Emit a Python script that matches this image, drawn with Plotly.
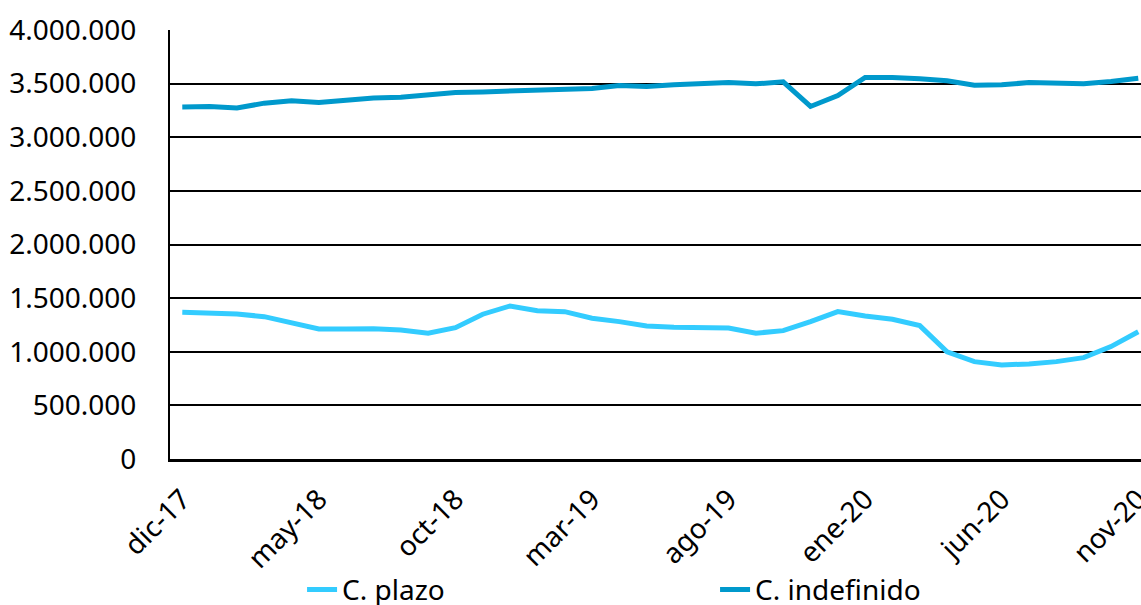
import plotly.graph_objects as go

months = ["dic-17", "ene-18", "feb-18", "mar-18", "abr-18", "may-18", "jun-18", "jul-18",
          "ago-18", "sep-18", "oct-18", "nov-18", "dic-18", "ene-19", "feb-19", "mar-19",
          "abr-19", "may-19", "jun-19", "jul-19", "ago-19", "sep-19", "oct-19", "nov-19",
          "dic-19", "ene-20", "feb-20", "mar-20", "abr-20", "may-20", "jun-20", "jul-20",
          "ago-20", "sep-20", "oct-20", "nov-20"]

c_plazo = [1368000, 1365000, 1352000, 1327000, 1266000, 1213000, 1213000, 1215000,
           1203000, 1173000, 1225000, 1350000, 1427000, 1383000, 1374000, 1312000,
           1281000, 1241000, 1229000, 1225000, 1222000, 1173000, 1197000, 1281000,
           1374000, 1334000, 1303000, 1244000, 1000000, 908000, 877000, 886000,
           908000, 945000, 1048000, 1187000]

c_indefinido = [3283000, 3286000, 3272000, 3318000, 3340000, 3324000, 3346000, 3367000,
                3374000, 3398000, 3417000, 3423000, 3430000, 3436000, 3442000, 3455000,
                3482000, 3473000, 3490000, 3504000, 3510000, 3498000, 3517000, 3287000,
                3389000, 3557000, 3557000, 3545000, 3526000, 3486000, 3489000, 3510000,
                3504000, 3498000, 3520000, 3550000]

tick_labels = ["dic-17", "may-18", "oct-18", "mar-19", "ago-19", "ene-20", "jun-20", "nov-20"]
y_ticks = [0, 500000, 1000000, 1500000, 2000000, 2500000, 3000000, 3500000, 4000000]

FONT = "Noto Sans"
FS = 28

fig = go.Figure()
fig.add_trace(go.Scatter(x=months, y=c_plazo, mode="lines", name="C. plazo",
                         line=dict(color="#33CCFF", width=5)))
fig.add_trace(go.Scatter(x=months, y=c_indefinido, mode="lines", name="C. indefinido",
                         line=dict(color="#0099CC", width=5)))

fig.update_layout(
    width=1141, height=605,
    margin=dict(l=170, r=0, t=30, b=146, autoexpand=False),
    paper_bgcolor="white", plot_bgcolor="white",
    separators=",.",
    font=dict(family=FONT, size=FS, color="#000000"),
    showlegend=True,
    legend=dict(orientation="h", x=0.136, y=-0.305, xanchor="left", yanchor="middle",
                font=dict(family=FONT, size=FS, color="#000000"),
                entrywidth=368, entrywidthmode="pixels", bgcolor="rgba(0,0,0,0)"),
)

fig.update_xaxes(
    type="category",
    range=[-0.45, 35.1],
    tickmode="array", tickvals=tick_labels, ticktext=tick_labels,
    tickangle=-45,
    ticks="outside", ticklen=10, tickcolor="rgba(0,0,0,0)",
    showgrid=False,
    showline=True, linecolor="#000000", linewidth=2.5,
    tickfont=dict(family=FONT, size=FS, color="#000000"),
    zeroline=False, automargin=False,
)
fig.update_yaxes(
    range=[0, 4000000],
    tickmode="array", tickvals=y_ticks,
    tickformat=",d",
    showgrid=True, gridcolor="#000000", gridwidth=1.5,
    showline=True, linecolor="#000000", linewidth=2,
    ticks="outside", ticklen=26, tickcolor="rgba(0,0,0,0)",
    tickfont=dict(family=FONT, size=FS, color="#000000"),
    zeroline=False, automargin=False,
)

fig.write_html("out.html", config={"displayModeBar": False},
               post_script="document.body.style.margin='0';document.body.style.padding='0';document.body.style.overflow='hidden';")
